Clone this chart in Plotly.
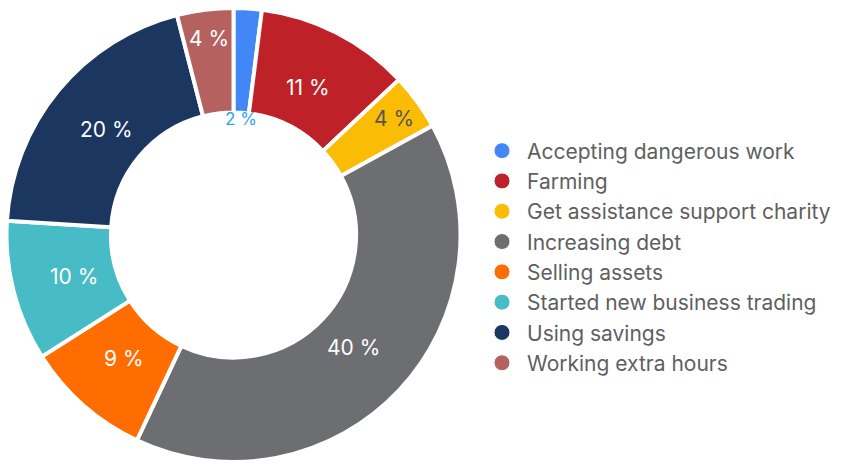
import math
import plotly.graph_objects as go

# Coping strategies and their share of responses (%)
categories = [
    "Accepting dangerous work",
    "Farming",
    "Get assistance support charity",
    "Increasing debt",
    "Selling assets",
    "Started new business trading",
    "Using savings",
    "Working extra hours",
]
shares = [2, 11, 4, 40, 9, 10, 20, 4]
colors = ["#4287f5", "#bf2128", "#fbbc05", "#6d6e72", "#ff6d00",
          "#47bcc6", "#1b365f", "#b5615f"]
text_colors = ["#2aa6f2", "#ffffff", "#555555", "#ffffff", "#ffffff",
               "#ffffff", "#ffffff", "#ffffff"]

W, H = 844, 465
FONT = "Inter, 'Open Sans', sans-serif"

# Donut placement in pixels
left, right, top, bottom = 6.5, 460.5, 8, 462
hole = 0.54

labels_txt = [f"{v} %" for v in shares]

fig = go.Figure()
fig.add_trace(go.Pie(
    labels=categories,
    values=shares,
    textinfo="none",
    marker=dict(colors=colors, line=dict(color="white", width=4)),
    hole=hole,
    sort=False,
    direction="clockwise",
    rotation=0,
    showlegend=False,
    hoverinfo="label+percent",
    domain=dict(x=[left / W, right / W], y=[(H - bottom) / H, (H - top) / H]),
))

# Legend entries with round markers
for name, c in zip(categories, colors):
    fig.add_trace(go.Scatter(
        x=[None], y=[None], mode="markers", name=name,
        marker=dict(symbol="circle", size=17, color=c,
                    line=dict(color="white", width=1)),
        hoverinfo="skip",
    ))

# Percentage labels at each slice's mid-angle: narrow slices push the label
# toward the outer rim, the tiniest one sits just inside the hole
cx = (left + right) / 2
cy = (top + bottom) / 2
R = (right - left) / 2
total = sum(shares)
for i, v in enumerate(shares):
    start = sum(shares[:i]) / total
    mid = (start + v / total / 2) * 2 * math.pi
    if v < 3:
        r, size = R * hole * 0.95, 17
    elif v <= 5:
        r, size = 198, 21
    else:
        r, size = 165, 21
    px = cx + r * math.sin(mid)
    py = cy - r * math.cos(mid)
    fig.add_annotation(
        x=px / W, y=1 - py / H, xref="paper", yref="paper",
        text=labels_txt[i], showarrow=False,
        xanchor="center", yanchor="middle",
        font=dict(family=FONT, size=size, color=text_colors[i]),
    )

fig.update_layout(
    width=W, height=H,
    margin=dict(l=0, r=0, t=0, b=0),
    paper_bgcolor="white",
    plot_bgcolor="white",
    xaxis=dict(visible=False),
    yaxis=dict(visible=False),
    legend=dict(
        x=477 / W, y=1 - 257 / H, xanchor="left", yanchor="middle",
        font=dict(family=FONT, size=21, color="#5f5f5f"),
        bgcolor="rgba(0,0,0,0)",
        itemwidth=40,
        tracegroupgap=0,
    ),
)

fig.write_html("out.html")
